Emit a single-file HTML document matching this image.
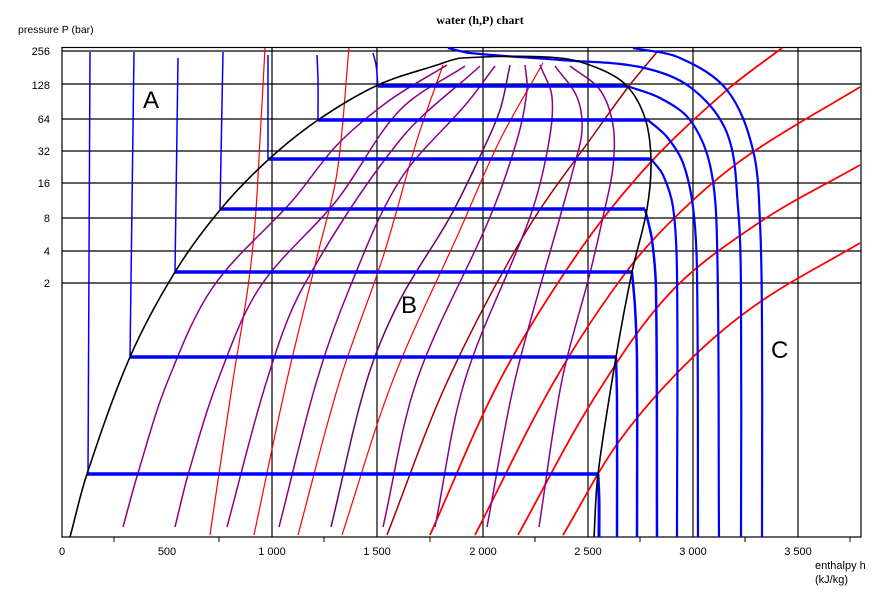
<!DOCTYPE html>
<html><head><meta charset="utf-8"><style>
html,body{margin:0;padding:0;background:#fff;}
svg{display:block;}
text{font-family:"Liberation Sans",sans-serif;font-size:11px;fill:#000;}
</style></head><body>
<svg id="s" width="890" height="605" xmlns="http://www.w3.org/2000/svg">
<text x="480" y="24" text-anchor="middle" style="font-family:'Liberation Serif',serif;font-weight:bold;font-size:12px">water (h,P) chart</text>
<text x="18" y="33" style="font-size:10.5px">pressure  P (bar)</text>
<g text-anchor="end" style="font-size:11px">
<text x="50" y="55">256</text><text x="50" y="89">128</text><text x="50" y="123">64</text><text x="50" y="155">32</text><text x="50" y="187">16</text><text x="50" y="222">8</text><text x="50" y="255">4</text><text x="50" y="287">2</text>
</g>
<g text-anchor="middle" style="font-size:11px">
<text x="62" y="555">0</text><text x="167" y="555">500</text><text x="272" y="555">1 000</text><text x="377" y="555">1 500</text><text x="483" y="555">2 000</text><text x="588" y="555">2 500</text><text x="693" y="555">3 000</text><text x="798" y="555">3 500</text>
</g>
<text x="815" y="569" style="font-size:11px">enthalpy  h</text>
<text x="815" y="583" style="font-size:11px">(kJ/kg)</text>
<text x="143" y="108" style="font-size:24px">A</text>
<text x="401" y="313" style="font-size:24px">B</text>
<text x="771" y="358" style="font-size:24px">C</text>
<g id="g"></g>
</svg>
<script>
var g=document.getElementById('g'),NS='http://www.w3.org/2000/svg';
function el(t,a){var e=document.createElementNS(NS,t);for(var k in a)e.setAttribute(k,a[k]);g.appendChild(e);return e;}
function dist(a,b){return Math.hypot(a[0]-b[0],a[1]-b[1]);}
function cr(p){var n=p.length,T=[];
for(var i=0;i<n;i++){var a=p[Math.max(0,i-1)],b=p[Math.min(n-1,i+1)],d=dist(a,b)||1;T.push([(b[0]-a[0])/d,(b[1]-a[1])/d]);}
var d='M'+p[0][0]+','+p[0][1];
for(var i=0;i<n-1;i++){var L=dist(p[i],p[i+1])/3;
d+=' C'+(p[i][0]+T[i][0]*L).toFixed(1)+','+(p[i][1]+T[i][1]*L).toFixed(1)+' '+(p[i+1][0]-T[i+1][0]*L).toFixed(1)+','+(p[i+1][1]-T[i+1][1]*L).toFixed(1)+' '+p[i+1][0]+','+p[i+1][1];}
return d;}
function line(p,c,w){el('path',{d:cr(p),fill:'none',stroke:c,'stroke-width':w,'stroke-linejoin':'round'});}
// grid
[51,84,119,151,183,218,251,283].forEach(function(y){el('line',{x1:62,x2:861,y1:y,y2:y,stroke:'#000','stroke-width':1.2});});
[272,377,483,588,693,798].forEach(function(x){el('line',{x1:x,x2:x,y1:47.5,y2:537,stroke:'#000','stroke-width':1.2});});
[114,219,324,430,535,640,745,850].forEach(function(x){el('line',{x1:x,x2:x,y1:537,y2:542,stroke:'#000','stroke-width':1});});
el('rect',{x:62,y:47.5,width:799,height:489.5,fill:'none',stroke:'#000','stroke-width':1.2});
// red isentropes
var R='#ff0000';
line([[265,48],[260,140],[255,223],[248,287],[233,380],[220,467],[210,535]],R,1.2);
line([[349,48],[337,173],[317,257],[287,380],[254,535]],R,1.2);
line([[443,65],[417,140],[383,257],[340,380],[298,535]],R,1.2);
line([[543,63],[500,140],[460,230],[393,380],[342,535]],R,1.2);
line([[657,52],[629,86],[597,130],[527,230],[448,380],[387,535]],'#a00000',1.5);
line([[782,48],[727,90],[650,163],[580,250],[500,380],[430,535]],R,1.8);
line([[860,87],[753,152],[690,203],[630,267],[555,380],[475,535]],R,1.8);
line([[860,165],[760,222],[670,293],[593,400],[518,535]],R,1.8);
line([[860,243],[760,302],[690,360],[620,440],[563,535]],R,1.8);
// purple
var P='#8b008b';
line([[447,65],[390,100],[337,145],[293,200],[213,287],[167,383],[138,473],[123,527]],P,1.5);
line([[465,66],[400,110],[337,200],[260,287],[218,380],[188,475],[175,527]],P,1.5);
line([[480,66],[400,140],[303,287],[267,380],[227,527]],P,1.5);
line([[495,66],[467,103],[400,180],[350,287],[317,380],[279,527]],P,1.5);
line([[510,65],[500,110],[483,150],[450,217],[400,300],[367,380],[331,527]],'#6a006a',1.5);
line([[525,65],[527,90],[517,140],[490,217],[417,380],[383,527]],P,1.5);
line([[540,65],[552,97],[548,147],[530,217],[465,380],[435,527]],P,1.5);
line([[555,66],[577,97],[582,130],[573,170],[560,217],[515,380],[487,527]],P,1.5);
line([[570,66],[600,90],[613,125],[613,167],[603,217],[590,273],[562,380],[539,527]],P,1.5);
// blue vertical liquid isotherms
var B='#0000ff';
[[88,474,90,52],[130,357,134,52],[175,272,178,58],[220,209,223,52],[268,159,268,55]].forEach(function(a){el('line',{x1:a[0],y1:a[1],x2:a[2],y2:a[3],stroke:B,'stroke-width':1.5});});
line([[318,120],[318,80],[317,55]],B,1.5);
line([[378,86],[376,65],[373,53]],B,1.5);
// horizontal isobars
[[86,378,627],[120,318,648],[159,268,651],[209,220,645],[272,175,632],[357,130,616],[474,87,598]].forEach(function(a){el('line',{x1:a[1],x2:a[2],y1:a[0],y2:a[0],stroke:B,'stroke-width':3.5});});
// vapor isotherms
line([[598,474],[599,500],[599,537]],B,3);
line([[616,357],[617,400],[617,537]],B,2.5);
line([[632,272],[635,307],[637,360],[637,537]],B,2.5);
line([[645,209],[652,240],[656,290],[657,537]],B,2.5);
line([[651,159],[663,175],[673,207],[677,273],[677,537]],B,2.2);
line([[648,120],[667,137],[683,163],[693,207],[697,273],[698,537]],B,2.2);
line([[627,86],[660,98],[690,120],[710,165],[717,240],[719,537]],B,2.2);
line([[448,48],[470,53],[560,60],[640,67],[690,87],[727,133],[738,207],[741,290],[741,537]],B,2.2);
line([[633,48],[680,58],[727,90],[753,150],[760,223],[762,330],[762,537]],B,2.2);
// saturation dome
line([[70,537],[87,474],[130,357],[175,272],[220,210],[268,160],[318,120],[378,85],[437,65],[462,58],[560,58],[600,69],[627,86],[645,118],[651,160],[647,209],[632,272],[616,357],[598,474],[594,537]],'#000',1.6);
</script>
</body></html>
